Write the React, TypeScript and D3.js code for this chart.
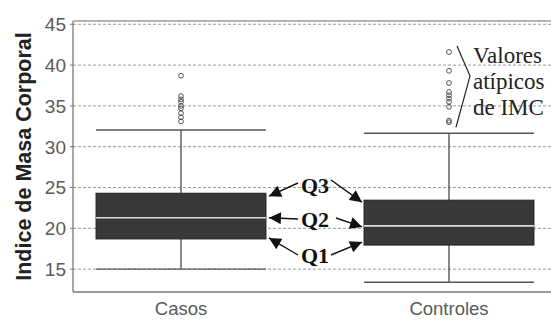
import React from 'react';
import * as d3 from 'd3';

const groups = ['Casos', 'Controles'];
// q1, median, q3, lower whisker, upper whisker
const q1 = [18.7, 17.95];
const medians = [21.3, 20.3];
const q3 = [24.3, 23.45];
const lowWhisker = [15.0, 13.4];
const highWhisker = [32.05, 31.65];
const outliersCasos = [38.7, 36.2, 35.8, 35.5, 35.0, 34.7, 34.1, 33.6, 33.1];
const outliersControles = [41.6, 39.3, 37.8, 36.7, 36.3, 35.9, 35.5, 34.9, 33.2, 33.0];
const yTicks = [15, 20, 25, 30, 35, 40, 45];
const noteLines = ['Valores', 'atípicos', 'de IMC'];
const quartileLabels = ['Q3', 'Q2', 'Q1'];

const W = 551;
const H = 320;
const left = 73;
const top = 21;
const bottom = 292;

export default function App() {
  const y = d3.scaleLinear().domain([12.2, 45.4]).range([bottom, top]);
  const x = d3.scaleBand().domain(groups).range([left, 557]).paddingInner(0.366).paddingOuter(0.086);
  const bw = x.bandwidth();
  const outliers = [outliersCasos, outliersControles];
  const sans = 'Liberation Sans, Arial, sans-serif';
  const serif = 'Liberation Serif, Times New Roman, serif';

  const x0 = x('Casos')!;
  const x1 = x('Controles')!;
  const c1 = x1 + bw / 2;
  const gapLeft = x0 + bw + 3;
  const gapRight = x1 - 2;
  const midX = (x0 + bw + x1) / 2;
  const labelY = [185, 219, 255];
  const qVals = [q3, medians, q1];

  return (
    <svg width={W} height={H} style={{ position: 'absolute', left: 0, top: 0 }}>
      <defs>
        <marker id="ah" viewBox="0 0 10 10" refX="10" refY="5" markerWidth="15" markerHeight="12"
          markerUnits="userSpaceOnUse" orient="auto">
          <path d="M0,0 L10,5 L0,10 Z" fill="#111" />
        </marker>
      </defs>
      <rect width={W} height={H} fill="#fff" />
      {/* grid */}
      {yTicks.map(t => (
        <g key={t}>
          <line x1={left} x2={W} y1={y(t)} y2={y(t)} stroke="#999" strokeWidth={1} strokeDasharray="3,2" />
          <line x1={left - 3} x2={left} y1={y(t)} y2={y(t)} stroke="#777" />
          <text x={left - 7} y={y(t)} dy="0.36em" textAnchor="end" fontFamily={sans} fontSize={19} fill="#5a5a5a">{t}</text>
        </g>
      ))}
      <line x1={left} x2={left} y1={top} y2={bottom} stroke="#777" strokeWidth={1.3} />
      <line x1={left} x2={W} y1={bottom} y2={bottom} stroke="#777" strokeWidth={1.3} />
      <line x1={left} x2={W} y1={top} y2={top} stroke="#999" strokeWidth={1.3} />

      {groups.map((g, i) => {
        const gx = x(g)!;
        const cx = gx + bw / 2;
        return (
          <g key={g}>
            <line x1={cx} x2={cx} y1={y(q3[i])} y2={y(highWhisker[i])} stroke="#555" strokeWidth={1.4} />
            <line x1={cx} x2={cx} y1={y(q1[i])} y2={y(lowWhisker[i])} stroke="#555" strokeWidth={1.4} />
            <line x1={gx} x2={gx + bw} y1={y(highWhisker[i])} y2={y(highWhisker[i])} stroke="#555" strokeWidth={1.4} />
            <line x1={gx} x2={gx + bw} y1={y(lowWhisker[i])} y2={y(lowWhisker[i])} stroke="#555" strokeWidth={1.4} />
            <rect x={gx} y={y(q3[i])} width={bw} height={y(q1[i]) - y(q3[i])} fill="#383838" stroke="#222" strokeWidth={1} />
            <line x1={gx} x2={gx + bw} y1={y(medians[i])} y2={y(medians[i])} stroke="#ddd" strokeWidth={1.6} />
            {outliers[i].map((v, k) => (
              <circle key={k} cx={cx} cy={y(v)} r={2.4} fill="none" stroke="#555" strokeWidth={1} />
            ))}
            <text x={cx} y={315} textAnchor="middle" fontFamily={sans} fontSize={18.5} fill="#5a5a5a">{g}</text>
          </g>
        );
      })}

      {/* y title */}
      <text transform={`translate(23,${(top + bottom) / 2}) rotate(-90)`} textAnchor="middle" dy="0.36em"
        fontFamily={sans} fontSize={21.5} fontWeight="bold" fill="#222">Indice de Masa Corporal</text>

      {/* outlier note */}
      <polyline
        points={`${c1 + 8},${y(outliersControles[0]) - 6} ${c1 + 21},${y(38.65)} ${c1 + 7},${y(33.0) + 5}`}
        fill="none" stroke="#222" strokeWidth={1.2} />
      {noteLines.map((l, i) => (
        <text key={l} x={c1 + 24} y={63 + i * 26} fontFamily={serif} fontSize={23} fill="#222">{l}</text>
      ))}

      {/* quartile arrows */}
      {quartileLabels.map((q, i) => {
        const ly = labelY[i];
        const tl = y(qVals[i][0]) + (i === 0 ? 3 : i === 2 ? -1 : 0);
        const tr = y(qVals[i][1]) + (i === 0 ? 2 : i === 2 ? -3 : 1);
        const sl = i === 1 ? 0 : i === 0 ? -2 : 0;
        return (
          <g key={q}>
            <line x1={midX - 17} y1={ly + sl} x2={gapLeft} y2={tl} stroke="#111" strokeWidth={1.4} markerEnd="url(#ah)" />
            <line x1={midX + 16 + (i === 1 ? 5 : 0)} y1={ly + (i === 0 ? -5 : i === 1 ? -1 : 0)} x2={gapRight} y2={tr}
              stroke="#111" strokeWidth={1.4} markerEnd="url(#ah)" />
            <text x={midX} y={ly} dy="0.35em" textAnchor="middle" fontFamily={serif} fontWeight="bold" fontSize={22} fill="#111">{q}</text>
          </g>
        );
      })}
    </svg>
  );
}
